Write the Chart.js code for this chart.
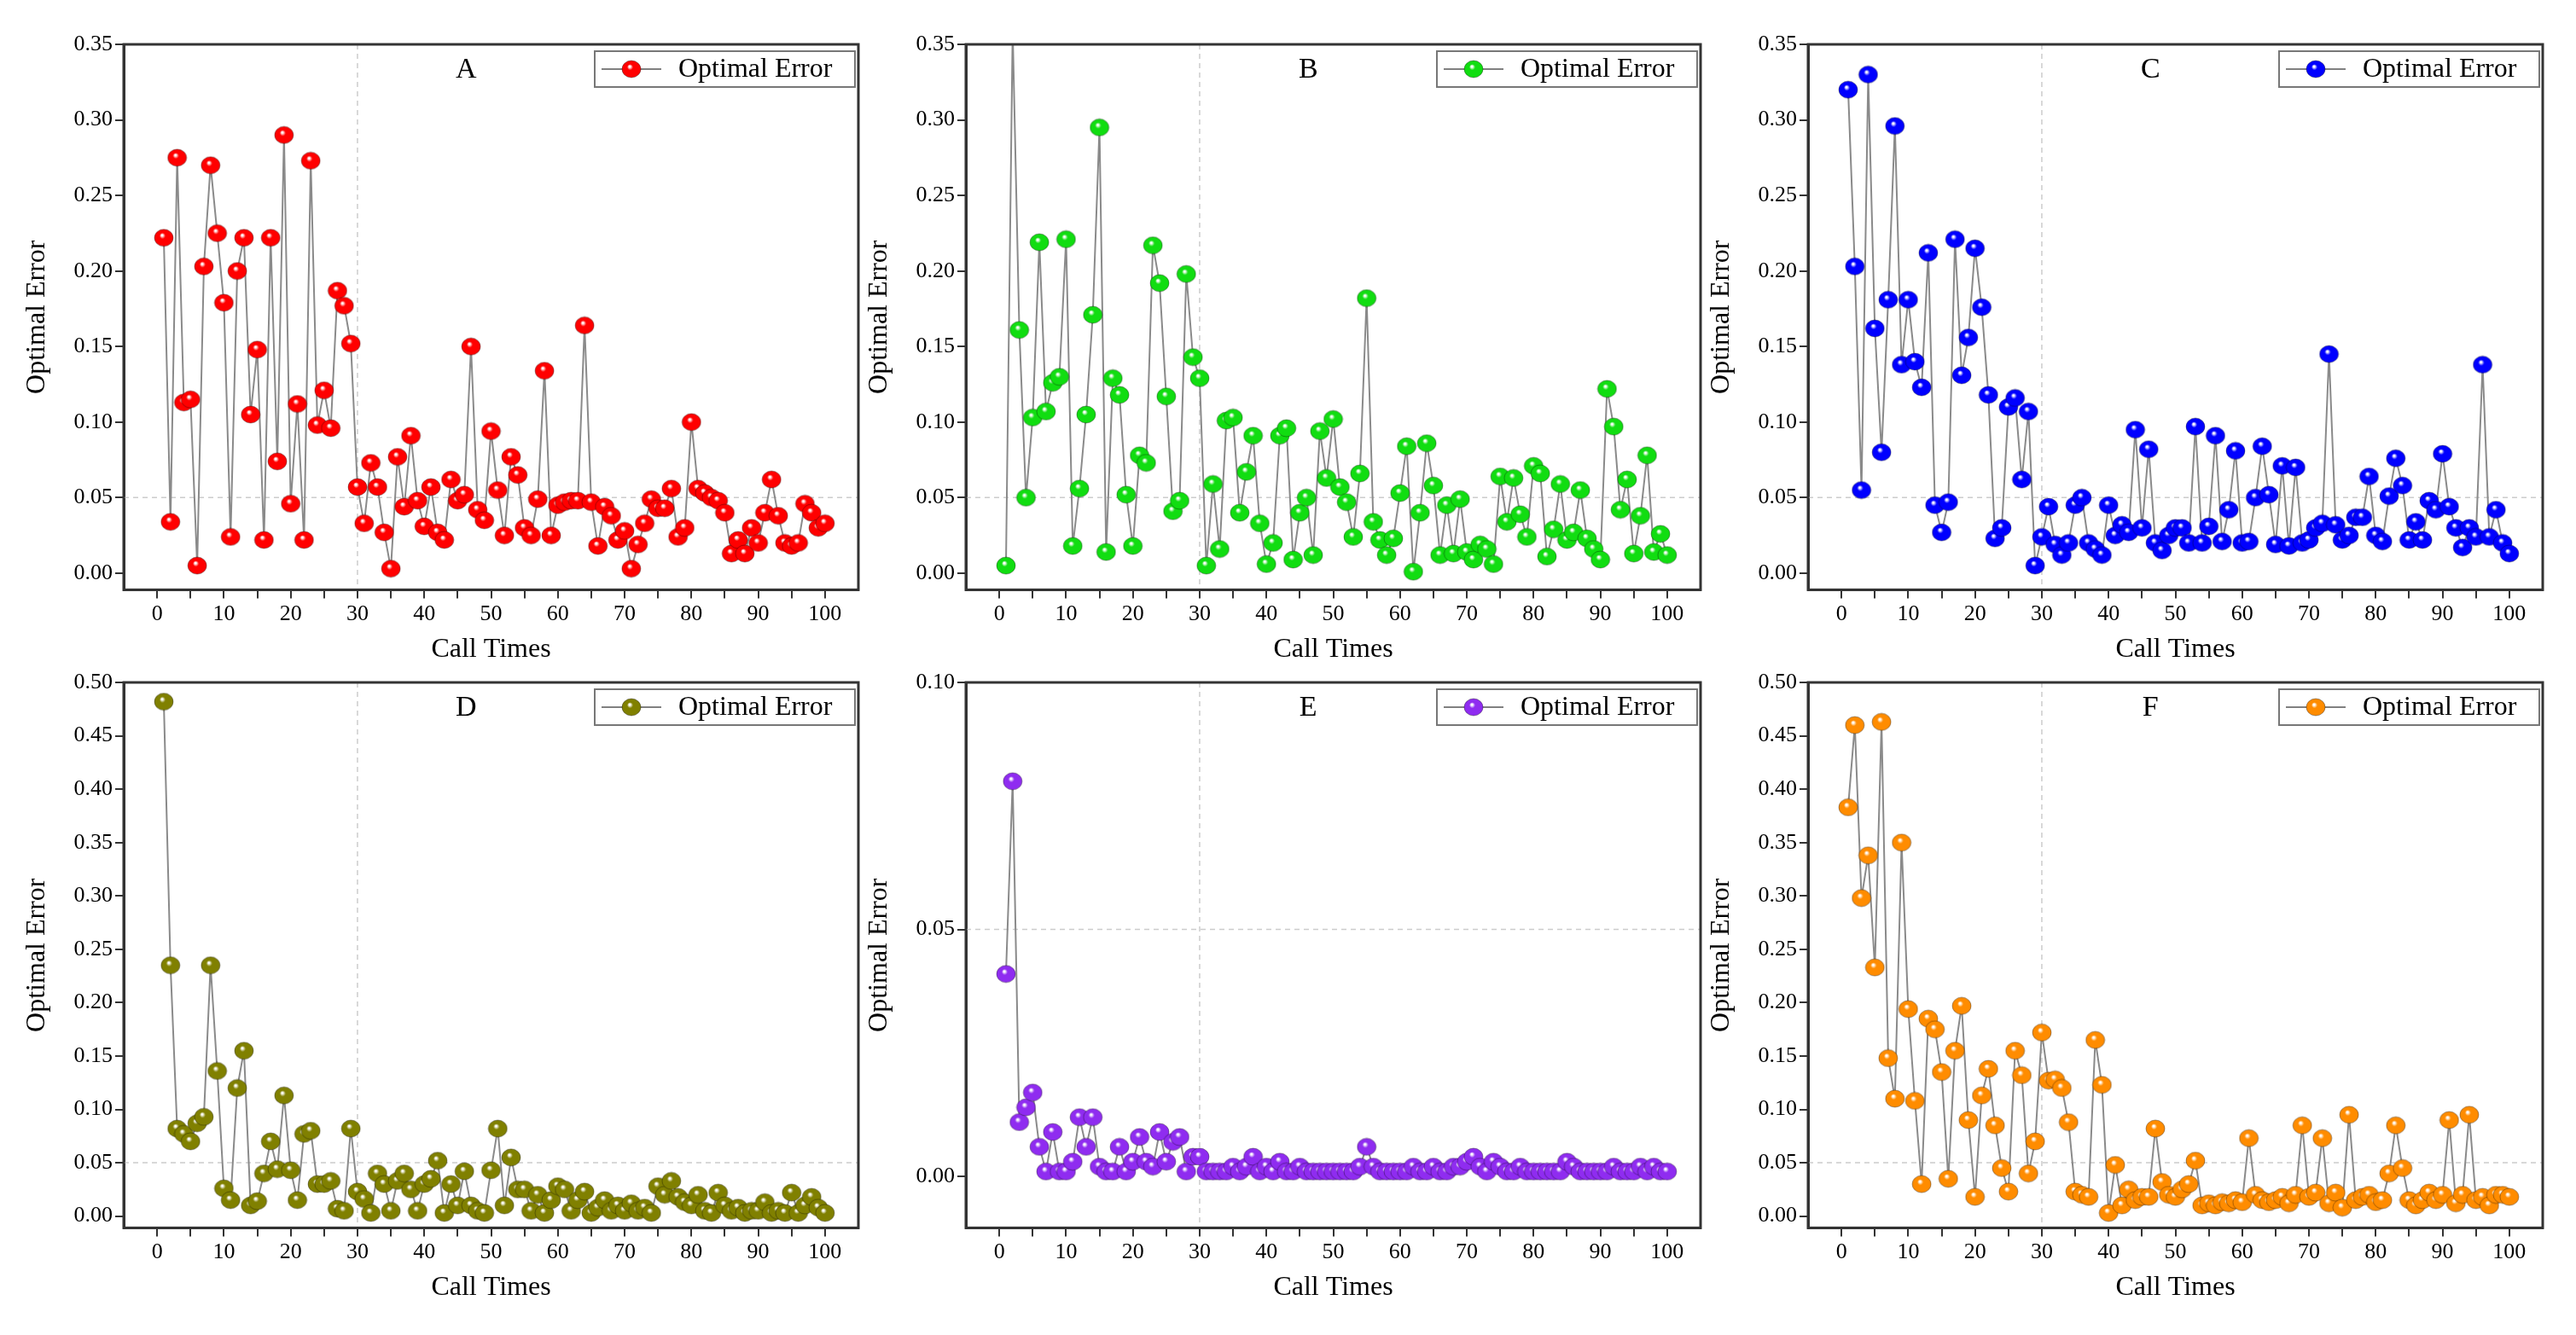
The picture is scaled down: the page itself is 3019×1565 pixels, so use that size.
<!DOCTYPE html>
<html><head><meta charset="utf-8">
<script src="https://cdn.jsdelivr.net/npm/chart.js@4.4.0/dist/chart.umd.min.js"></script>
<style>body{margin:0;background:#fff;width:3019px;height:1565px;position:relative;overflow:hidden}
.c{position:absolute;width:1000px;height:755px}
#pre{position:absolute;left:-9999px;font-family:'Liberation Serif';font-size:30px}</style></head><body>
<div id="pre">Optimal Error 0123456789 Call Times</div>
<div class="c" style="left:20px;top:30px"><canvas id="cA"></canvas></div>
<div class="c" style="left:1007px;top:30px"><canvas id="cB"></canvas></div>
<div class="c" style="left:1994px;top:30px"><canvas id="cC"></canvas></div>
<div class="c" style="left:20px;top:778px"><canvas id="cD"></canvas></div>
<div class="c" style="left:1007px;top:778px"><canvas id="cE"></canvas></div>
<div class="c" style="left:1994px;top:778px"><canvas id="cF"></canvas></div>
<script>
const callTimes = Array.from({length:100},(_, i)=>i+1);
const seriesA = [0.222,0.034,0.275,0.113,0.115,0.005,0.203,0.270,0.225,0.179,0.024,0.200,0.222,0.105,0.148,0.022,0.222,0.074,0.290,0.046,0.112,0.022,0.273,0.098,0.121,0.096,0.187,0.177,0.152,0.057,0.033,0.073,0.057,0.027,0.003,0.077,0.044,0.091,0.048,0.031,0.057,0.027,0.022,0.062,0.048,0.052,0.150,0.042,0.035,0.094,0.055,0.025,0.077,0.065,0.030,0.025,0.049,0.134,0.025,0.045,0.047,0.048,0.048,0.164,0.047,0.018,0.044,0.038,0.022,0.028,0.003,0.019,0.033,0.049,0.043,0.043,0.056,0.024,0.030,0.100,0.056,0.053,0.050,0.048,0.040,0.013,0.022,0.013,0.030,0.020,0.040,0.062,0.038,0.020,0.018,0.020,0.046,0.040,0.030,0.033];
const seriesB = [0.005,0.36,0.161,0.050,0.103,0.219,0.107,0.126,0.130,0.221,0.018,0.056,0.105,0.171,0.295,0.014,0.129,0.118,0.052,0.018,0.078,0.073,0.217,0.192,0.117,0.041,0.048,0.198,0.143,0.129,0.005,0.059,0.016,0.101,0.103,0.040,0.067,0.091,0.033,0.006,0.020,0.091,0.096,0.009,0.040,0.050,0.012,0.094,0.063,0.102,0.057,0.047,0.024,0.066,0.182,0.034,0.022,0.012,0.023,0.053,0.084,0.001,0.040,0.086,0.058,0.012,0.045,0.013,0.049,0.014,0.009,0.019,0.016,0.006,0.064,0.034,0.063,0.039,0.024,0.071,0.066,0.011,0.029,0.059,0.022,0.027,0.055,0.023,0.016,0.009,0.122,0.097,0.042,0.062,0.013,0.038,0.078,0.014,0.026,0.012];
const seriesC = [0.320,0.203,0.055,0.330,0.162,0.080,0.181,0.296,0.138,0.181,0.140,0.123,0.212,0.045,0.027,0.047,0.221,0.131,0.156,0.215,0.176,0.118,0.023,0.030,0.110,0.116,0.062,0.107,0.005,0.024,0.044,0.019,0.012,0.020,0.045,0.050,0.020,0.016,0.012,0.045,0.025,0.032,0.027,0.095,0.030,0.082,0.020,0.015,0.025,0.030,0.030,0.020,0.097,0.020,0.031,0.091,0.021,0.042,0.081,0.020,0.021,0.050,0.084,0.052,0.019,0.071,0.018,0.070,0.020,0.022,0.030,0.033,0.145,0.032,0.022,0.025,0.037,0.037,0.064,0.025,0.021,0.051,0.076,0.058,0.022,0.034,0.022,0.048,0.042,0.079,0.044,0.030,0.017,0.030,0.024,0.138,0.024,0.042,0.020,0.013];
const seriesD = [0.482,0.235,0.082,0.077,0.070,0.087,0.093,0.235,0.136,0.026,0.015,0.120,0.155,0.010,0.014,0.040,0.070,0.044,0.113,0.043,0.015,0.077,0.080,0.030,0.030,0.033,0.007,0.005,0.082,0.023,0.016,0.003,0.040,0.030,0.005,0.033,0.040,0.025,0.005,0.030,0.035,0.052,0.003,0.030,0.010,0.042,0.010,0.005,0.003,0.043,0.082,0.010,0.055,0.025,0.025,0.005,0.020,0.003,0.015,0.028,0.025,0.005,0.015,0.023,0.003,0.008,0.015,0.005,0.010,0.005,0.012,0.005,0.008,0.003,0.028,0.020,0.033,0.018,0.013,0.010,0.020,0.005,0.003,0.022,0.010,0.005,0.008,0.003,0.005,0.005,0.013,0.003,0.005,0.003,0.022,0.003,0.010,0.018,0.008,0.003];
const seriesE = [0.041,0.080,0.011,0.014,0.017,0.006,0.001,0.009,0.001,0.001,0.003,0.012,0.006,0.012,0.002,0.001,0.001,0.006,0.001,0.003,0.008,0.003,0.002,0.009,0.003,0.007,0.008,0.001,0.004,0.004,0.001,0.001,0.001,0.001,0.002,0.001,0.002,0.004,0.001,0.002,0.001,0.003,0.001,0.001,0.002,0.001,0.001,0.001,0.001,0.001,0.001,0.001,0.001,0.002,0.006,0.002,0.001,0.001,0.001,0.001,0.001,0.002,0.001,0.001,0.002,0.001,0.001,0.002,0.002,0.003,0.004,0.002,0.001,0.003,0.002,0.001,0.001,0.002,0.001,0.001,0.001,0.001,0.001,0.001,0.003,0.002,0.001,0.001,0.001,0.001,0.001,0.002,0.001,0.001,0.001,0.002,0.001,0.002,0.001,0.001];
const seriesF = [0.383,0.460,0.298,0.338,0.233,0.463,0.148,0.110,0.350,0.194,0.108,0.030,0.185,0.175,0.135,0.035,0.155,0.197,0.090,0.018,0.113,0.138,0.085,0.045,0.023,0.155,0.132,0.040,0.070,0.172,0.127,0.128,0.120,0.088,0.023,0.020,0.018,0.165,0.123,0.003,0.048,0.010,0.025,0.015,0.018,0.018,0.082,0.032,0.020,0.018,0.025,0.030,0.052,0.010,0.012,0.010,0.013,0.012,0.015,0.013,0.073,0.020,0.015,0.013,0.015,0.018,0.012,0.020,0.085,0.018,0.022,0.073,0.012,0.022,0.008,0.095,0.015,0.018,0.020,0.013,0.015,0.040,0.085,0.045,0.015,0.010,0.015,0.022,0.015,0.020,0.090,0.012,0.020,0.095,0.015,0.018,0.010,0.020,0.020,0.018];
const xTicks = [0,10,20,30,40,50,60,70,80,90,100];
const yTicksABC = [0,0.05,0.10,0.15,0.20,0.25,0.30,0.35];
const yTicksDF = [0,0.05,0.10,0.15,0.20,0.25,0.30,0.35,0.40,0.45,0.50];
const yTicksE = [0,0.05,0.10];
const legendLabel = 'Optimal Error';
const FONT = "'Liberation Serif'";

function ball(color){
  const c=document.createElement('canvas');c.width=24;c.height=22;const g=c.getContext('2d');
  const gr=g.createRadialGradient(10,8,1,12,11,11);
  gr.addColorStop(0,'#ffffff');gr.addColorStop(0.25,color);gr.addColorStop(1,color);
  g.fillStyle=gr;g.beginPath();g.ellipse(12,11,11,10,0,0,Math.PI*2);g.fill();
  g.strokeStyle='rgba(0,0,0,0.35)';g.lineWidth=1;g.stroke();return c;
}
const deco={id:'deco',
 beforeDatasetsDraw(ch,a,o){const {ctx,chartArea:ca,scales}=ch;ctx.save();
  ctx.strokeStyle='#cccccc';ctx.lineWidth=1.5;ctx.setLineDash([6,5]);
  const x=scales.x.getPixelForValue(30),y=scales.y.getPixelForValue(0.05);
  ctx.beginPath();ctx.moveTo(x,ca.top);ctx.lineTo(x,ca.bottom);ctx.moveTo(ca.left,y);ctx.lineTo(ca.right,y);ctx.stroke();ctx.restore();},
 afterDraw(ch,a,o){const {ctx,chartArea:ca}=ch;ctx.save();
  ctx.strokeStyle='#333';ctx.lineWidth=3;ctx.strokeRect(ca.left,ca.top,ca.width,ca.height);
  ctx.fillStyle='#000';ctx.font='34px '+FONT;ctx.textAlign='center';ctx.textBaseline='middle';
  ctx.fillText(o.letter,ca.left+ca.width*0.466,ca.top+30);
  const bw=305,bh=42,bx=ca.right-bw-4,by=ca.top+8;
  ctx.fillStyle='#fff';ctx.fillRect(bx,by,bw,bh);ctx.strokeStyle='#777';ctx.lineWidth=2;ctx.strokeRect(bx,by,bw,bh);
  ctx.strokeStyle='#808080';ctx.beginPath();ctx.moveTo(bx+8,by+bh/2);ctx.lineTo(bx+78,by+bh/2);ctx.stroke();
  ctx.drawImage(o.img,bx+31,by+bh/2-11);
  ctx.fillStyle='#000';ctx.font='32px '+FONT;ctx.textAlign='left';ctx.fillText(legendLabel,bx+98,by+bh/2+1);
  ctx.restore();}
};
function make(id,data,color,letter,yMax,yTicks){
  const img=ball(color);
  new Chart(document.getElementById(id),{type:'line',
   data:{labels:callTimes,datasets:[{label:legendLabel,data:callTimes.map((x,i)=>({x,y:data[i]})),borderColor:'#8a8a8a',borderWidth:2,pointStyle:img,pointRadius:11,tension:0}]},
   options:{responsive:true,maintainAspectRatio:false,animation:false,
    layout:{padding:{top:22,right:14,left:0,bottom:0}},
    plugins:{legend:{display:false},tooltip:{enabled:false},deco:{letter,img}},
    scales:{
     x:{type:'linear',min:-5,max:105,
      afterBuildTicks:s=>{s.ticks=[];for(let v=0;v<=100;v+=5)s.ticks.push({value:v});},
      ticks:{autoSkip:false,maxRotation:0,font:{family:FONT,size:26},color:'#000',callback:v=>xTicks.includes(v)?String(v):''},
      grid:{drawOnChartArea:false,tickLength:10,color:'#333',lineWidth:2},border:{color:'#333',width:3},
      title:{display:true,text:'Call Times',font:{family:FONT,size:32},color:'#000',padding:{top:4}}},
     y:{min:yMax===0.1?-0.0104:-0.011,max:yMax,
      afterBuildTicks:s=>{s.ticks=yTicks.map(v=>({value:v}));},
      afterFit:s=>{s.width=125;},
      ticks:{autoSkip:false,font:{family:FONT,size:26},color:'#000',callback:v=>v.toFixed(2)},
      grid:{drawOnChartArea:false,tickLength:10,color:'#333',lineWidth:2},border:{color:'#333',width:3},
      title:{display:true,text:'Optimal Error',font:{family:FONT,size:32},color:'#000',padding:{bottom:4}}}
    }},plugins:[deco]});
}
function go(){
make('cA',seriesA,'#ff0000','A',0.35,yTicksABC);
make('cB',seriesB,'#11dd11','B',0.35,yTicksABC);
make('cC',seriesC,'#0000ff','C',0.35,yTicksABC);
make('cD',seriesD,'#808000','D',0.5,yTicksDF);
make('cE',seriesE,'#8f2cf0','E',0.1,yTicksE);
make('cF',seriesF,'#ff8c00','F',0.5,yTicksDF);
}
Promise.all([document.fonts.load("32px 'Liberation Serif'"),document.fonts.ready]).then(go,go);
</script></body></html>
